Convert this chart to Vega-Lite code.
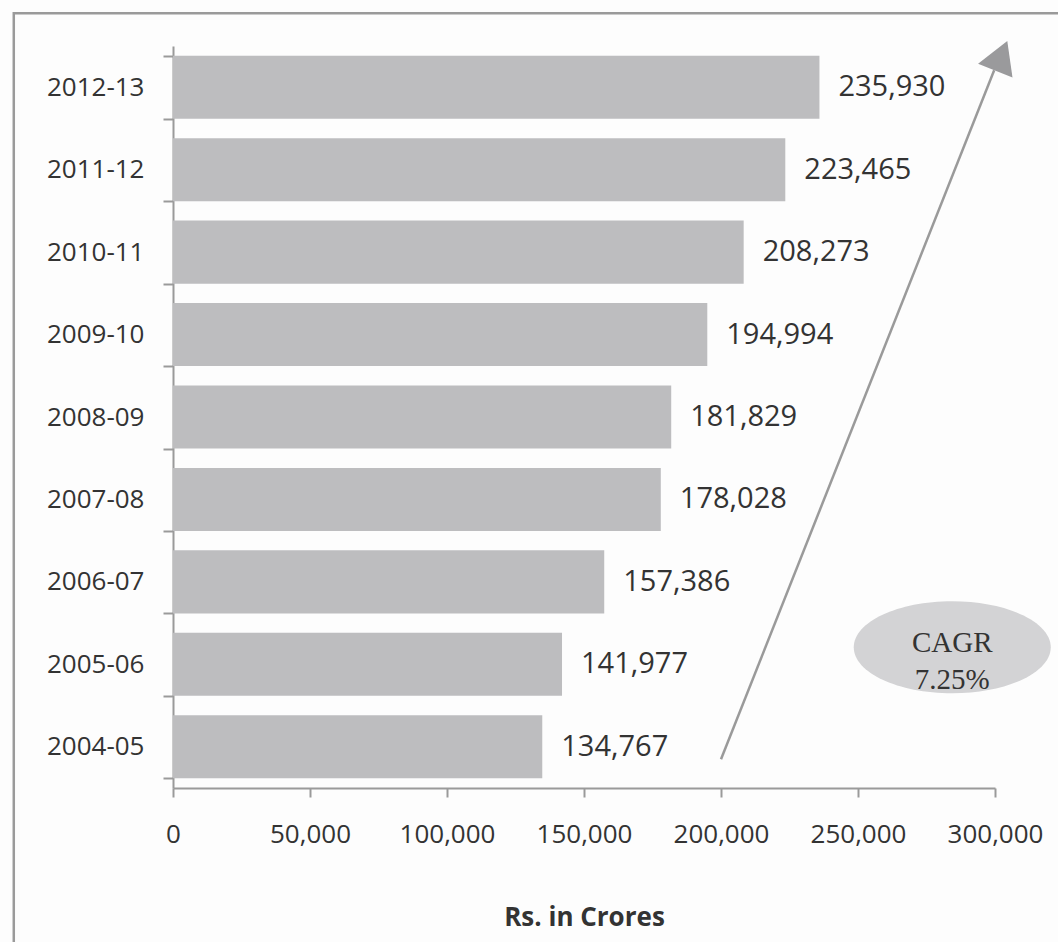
{
  "$schema": "https://vega.github.io/schema/vega-lite/v6.json",
  "autosize": {"type": "none"},
  "padding": {"left": 173, "top": 46, "right": 63, "bottom": 154},
  "width": 822,
  "height": 742,
  "background": "#fdfdfd",
  "config": {
    "view": {"stroke": null},
    "axis": {
      "domainColor": "#9a9a9a", "tickColor": "#9a9a9a", "domainWidth": 2, "tickWidth": 2,
      "labelFont": "Open Sans", "labelFontSize": 26, "labelColor": "#333333", "grid": false
    }
  },
  "layer": [
    {
      "data": {"values": [
        {"year": "2012-13", "value": 235930},
        {"year": "2011-12", "value": 223465},
        {"year": "2010-11", "value": 208273},
        {"year": "2009-10", "value": 194994},
        {"year": "2008-09", "value": 181829},
        {"year": "2007-08", "value": 178028},
        {"year": "2006-07", "value": 157386},
        {"year": "2005-06", "value": 141977},
        {"year": "2004-05", "value": 134767}
      ]},
      "encoding": {
        "y": {"field": "year", "type": "nominal", "sort": "descending",
          "scale": {"paddingInner": 0.235, "paddingOuter": 0.1175},
          "axis": {"title": null, "tickBand": "extent", "tickSize": 10, "labelPadding": 19}},
        "x": {"field": "value", "type": "quantitative",
          "scale": {"domain": [0, 300000], "nice": false, "zero": true},
          "axis": {"values": [0, 50000, 100000, 150000, 200000, 250000, 300000], "format": ",d",
            "tickSize": 9, "labelPadding": 24, "labelFlush": false, "labelOverlap": false, "labelBound": false,
            "title": "Rs. in Crores", "titleFont": "Open Sans", "titleFontWeight": "bold", "titleFontSize": 26,
            "titleColor": "#333333", "titleY": 137, "titleBaseline": "alphabetic"}}
      },
      "layer": [
        {"mark": {"type": "bar", "color": "#bdbdbf"}},
        {"mark": {"type": "text", "align": "left", "baseline": "middle", "dx": 19, "font": "Open Sans", "fontSize": 29, "color": "#333333"},
          "encoding": {"text": {"field": "value", "type": "quantitative", "format": ",d"}}}
      ]
    },
    {
      "layer": [
        {
          "data": {"values": [{"x": -58110, "x2": 323500, "y": 9.397, "y2": -2.2}]},
          "mark": {"type": "rect", "fillOpacity": 0, "stroke": "#9a9a9a", "strokeWidth": 2.5},
          "encoding": {
            "x": {"field": "x", "type": "quantitative"},
            "x2": {"field": "x2"},
            "y": {"field": "y", "type": "quantitative", "scale": {"domain": [0, 9], "nice": false, "zero": false}, "axis": null},
            "y2": {"field": "y2"}
          }
        },
        {
          "data": {"values": [{"x": 200000, "y": 0.348, "x2": 299700, "y2": 8.706}]},
          "mark": {"type": "rule", "color": "#9a9a9a", "strokeWidth": 2.5},
          "encoding": {
            "x": {"field": "x", "type": "quantitative"},
            "x2": {"field": "x2"},
            "y": {"field": "y", "type": "quantitative", "axis": null},
            "y2": {"field": "y2"}
          }
        },
        {
          "data": {"values": [{"x": 304480, "y": 9.061}]},
          "mark": {"type": "point", "shape": "M0,0 L0.58,1 L-0.58,1 Z", "size": 4096, "angle": 22, "filled": true, "color": "#9a9a9c", "opacity": 1, "strokeWidth": 0},
          "encoding": {
            "x": {"field": "x", "type": "quantitative"},
            "y": {"field": "y", "type": "quantitative", "axis": null}
          }
        },
        {
          "data": {"values": [{"x": 284400, "y": 1.707}]},
          "mark": {"type": "point", "shape": "M-1,0 A1,0.467 0 1,1 1,0 A1,0.467 0 1,1 -1,0 Z", "size": 38809, "filled": true, "color": "#d3d3d5", "opacity": 1, "strokeWidth": 0},
          "encoding": {
            "x": {"field": "x", "type": "quantitative"},
            "y": {"field": "y", "type": "quantitative", "axis": null}
          }
        },
        {
          "data": {"values": [{"x": 284400, "y": 1.755, "t": "CAGR"}, {"x": 284400, "y": 1.306, "t": "7.25%"}]},
          "mark": {"type": "text", "align": "center", "baseline": "middle", "font": "Liberation Serif", "fontSize": 29, "color": "#333333"},
          "encoding": {
            "x": {"field": "x", "type": "quantitative"},
            "y": {"field": "y", "type": "quantitative", "axis": null},
            "text": {"field": "t"}
          }
        }
      ]
    }
  ],
  "resolve": {"scale": {"y": "independent"}, "axis": {"y": "independent"}}
}
